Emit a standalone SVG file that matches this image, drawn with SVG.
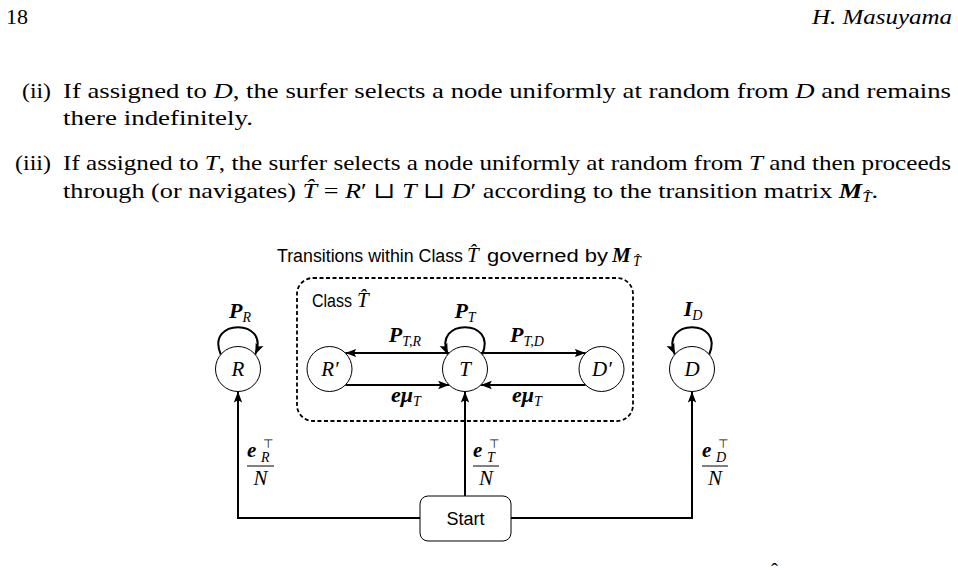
<svg xmlns="http://www.w3.org/2000/svg" width="958" height="570" viewBox="0 0 958 570">
<style>
.s{font-family:"Liberation Serif","DejaVu Serif",serif;font-size:21px;fill:#000}
.p{font-size:22px}
.it{font-style:italic}
.bi{font-style:italic;font-weight:bold}
.sub{font-size:14px;font-style:italic;font-weight:normal}
.sans{font-family:"Liberation Sans","DejaVu Sans",sans-serif;font-size:18px;fill:#000}
.tp{font-family:"DejaVu Sans",sans-serif;font-size:12px;fill:#000}
.edge{fill:none;stroke:#000;stroke-width:2}
.node circle{fill:#fff;stroke:#000;stroke-width:1}
.lbl{text-anchor:middle}
</style>
<defs>
<marker id="ah" markerUnits="userSpaceOnUse" markerWidth="12" markerHeight="10" refX="11" refY="5" orient="auto">
<path d="M0,0.8 L11,5 L0,9.2 L2.2,5 z" fill="#000"/>
</marker>
</defs>
<rect width="958" height="570" fill="#fff"/>

<!-- header -->
<text class="s p" x="6" y="24">18</text>
<text class="s p it" x="812" y="24" textLength="140" lengthAdjust="spacingAndGlyphs">H. Masuyama</text>

<!-- paragraph -->
<text class="s p" x="22" y="98" textLength="29" lengthAdjust="spacingAndGlyphs">(ii)</text>
<text class="s p" x="63" y="98" textLength="888" lengthAdjust="spacingAndGlyphs">If assigned to <tspan class="it">D</tspan>, the surfer selects a node uniformly at random from <tspan class="it">D</tspan> and remains</text>
<text class="s p" x="63" y="125" textLength="190" lengthAdjust="spacingAndGlyphs">there indefinitely.</text>
<text class="s p" x="15" y="170" textLength="36" lengthAdjust="spacingAndGlyphs">(iii)</text>
<text class="s p" x="63" y="170" textLength="888" lengthAdjust="spacingAndGlyphs">If assigned to <tspan class="it">T</tspan>, the surfer selects a node uniformly at random from <tspan class="it">T</tspan> and then proceeds</text>
<text class="s p" x="63" y="198" textLength="815" lengthAdjust="spacingAndGlyphs">through (or navigates) <tspan class="it">T̂</tspan> = <tspan class="it">R</tspan>′ ⊔ <tspan class="it">T</tspan> ⊔ <tspan class="it">D</tspan>′ according to the transition matrix <tspan class="bi">M</tspan><tspan class="sub" dy="4">T̂</tspan><tspan dy="-4">.</tspan></text>

<!-- title -->
<text class="sans" x="277" y="262" textLength="186" lengthAdjust="spacingAndGlyphs">Transitions within Class</text>
<text class="s it" x="467" y="262">T̂</text>
<text class="sans" x="487" y="262" textLength="121" lengthAdjust="spacingAndGlyphs">governed by</text>
<text class="s bi" x="612" y="262" font-size="23">M</text>
<text class="s sub" x="633" y="266">T̂</text>

<!-- class box -->
<g id="classT">
<rect x="297" y="278" width="336" height="143" rx="16" ry="16" fill="none" stroke="#000" stroke-width="1.8" stroke-dasharray="4,2.5"/>
<text class="sans" x="312" y="307" textLength="40" lengthAdjust="spacingAndGlyphs">Class</text>
<text class="s it" x="357" y="307">T̂</text>
</g>

<!-- connectors -->
<g id="connectors">
<path class="edge" d="M449.2,353 H345.3" marker-end="url(#ah)"/>
<path class="edge" d="M345.3,385 H449.2" marker-end="url(#ah)"/>
<path class="edge" d="M480.8,353 H585.7" marker-end="url(#ah)"/>
<path class="edge" d="M585.7,385 H480.8" marker-end="url(#ah)"/>
<path class="edge" d="M220.8,354.5 C205,318 271,318 255.2,354.5" marker-end="url(#ah)"/>
<path class="edge" d="M482.2,354.5 C498,318 432,318 447.8,354.5" marker-end="url(#ah)"/>
<path class="edge" d="M709.2,354.5 C725,318 659,318 674.8,354.5" marker-end="url(#ah)"/>
<path class="edge" d="M420,518 H238 V391.5" marker-end="url(#ah)"/>
<path class="edge" d="M465,496 V391.5" marker-end="url(#ah)"/>
<path class="edge" d="M511,518 H692 V391.5" marker-end="url(#ah)"/>

<text class="s lbl" x="405" y="342"><tspan class="bi" font-size="22">P</tspan><tspan class="sub" dy="4">T,R</tspan></text>
<text class="s lbl" x="527" y="342"><tspan class="bi" font-size="22">P</tspan><tspan class="sub" dy="4">T,D</tspan></text>
<text class="s lbl" x="406" y="402"><tspan class="bi" font-size="22">eμ</tspan><tspan class="sub" dy="4">T</tspan></text>
<text class="s lbl" x="527" y="402"><tspan class="bi" font-size="22">eμ</tspan><tspan class="sub" dy="4">T</tspan></text>
<text class="s lbl" x="240" y="318"><tspan class="bi" font-size="22">P</tspan><tspan class="sub" dy="4">R</tspan></text>
<text class="s lbl" x="465" y="318"><tspan class="bi" font-size="22">P</tspan><tspan class="sub" dy="4">T</tspan></text>
<text class="s lbl" x="693" y="316"><tspan class="bi" font-size="22">I</tspan><tspan class="sub" dy="4">D</tspan></text>

<!-- fractions -->
<text class="s bi" x="247" y="457" font-size="22">e</text>
<text class="tp" x="263" y="448">⊤</text>
<text class="s sub" x="261" y="462">R</text>
<line x1="247" y1="466" x2="274" y2="466" stroke="#000" stroke-width="1"/>
<text class="s it lbl" x="260.5" y="485">N</text>

<text class="s bi" x="473" y="457" font-size="22">e</text>
<text class="tp" x="489" y="448">⊤</text>
<text class="s sub" x="487" y="462">T</text>
<line x1="473" y1="466" x2="499" y2="466" stroke="#000" stroke-width="1"/>
<text class="s it lbl" x="486" y="485">N</text>

<text class="s bi" x="702" y="457" font-size="22">e</text>
<text class="tp" x="718" y="448">⊤</text>
<text class="s sub" x="716" y="462">D</text>
<line x1="702" y1="466" x2="728" y2="466" stroke="#000" stroke-width="1"/>
<text class="s it lbl" x="715" y="485">N</text>
</g>

<!-- nodes -->
<g id="nodeR" class="node"><circle cx="238" cy="369" r="22.5"/><text class="s it lbl" x="238" y="376">R</text></g>
<g id="nodeRp" class="node"><circle cx="329.5" cy="369" r="22.5"/><text class="s it lbl" x="330" y="376">R′</text></g>
<g id="nodeT" class="node"><circle cx="465" cy="369" r="22.5"/><text class="s it lbl" x="465" y="376">T</text></g>
<g id="nodeDp" class="node"><circle cx="601.5" cy="369" r="22.5"/><text class="s it lbl" x="602" y="376">D′</text></g>
<g id="nodeD" class="node"><circle cx="692" cy="369" r="22.5"/><text class="s it lbl" x="692" y="376">D</text></g>
<g id="nodeStart"><rect x="420" y="496" width="91" height="45" rx="8" ry="8" fill="#fff" stroke="#000" stroke-width="1"/><text class="sans lbl" x="465.5" y="525" font-size="19">Start</text></g>

<text class="s" x="771" y="578">ˆ</text>
</svg>
